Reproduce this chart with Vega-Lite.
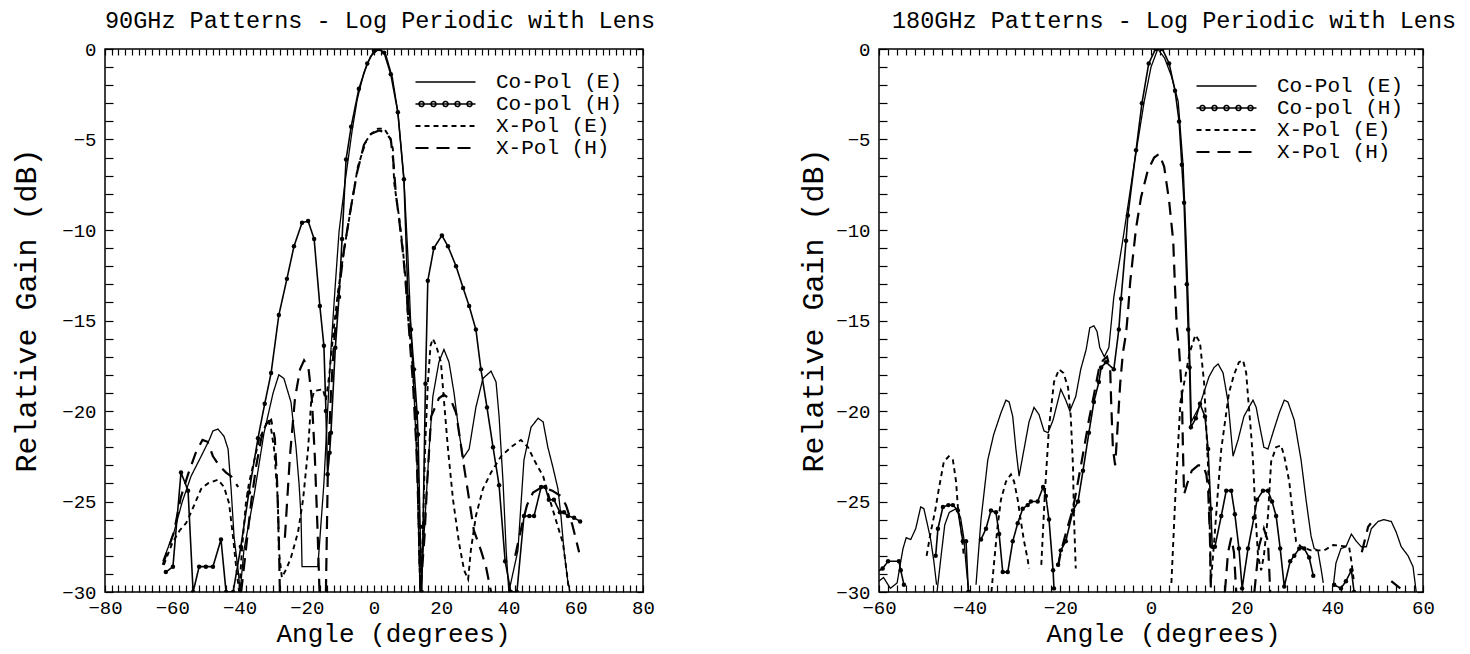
{
  "$schema": "https://vega.github.io/schema/vega-lite/v6.json",
  "autosize": {"type": "pad"},
  "padding": {"left": 10, "top": 7, "right": 5, "bottom": 3},
  "background": "white",
  "spacing": 236,
  "bounds": "flush",
  "config": {
    "font": "Liberation Mono",
    "view": {"stroke": "black", "strokeWidth": 1.5},
    "axis": {"labelFont": "Liberation Mono", "titleFont": "Liberation Mono", "labelColor": "black", "titleColor": "black", "tickColor": "black", "tickWidth": 1.2, "grid": false, "domain": false, "labelFontSize": 19, "titleFontSize": 26, "titleFontWeight": "normal", "labelOverlap": false, "labelFlush": false, "labelBound": false},
    "legend": {"labelFont": "Liberation Mono", "labelFontSize": 21, "labelColor": "black", "padding": 0, "symbolType": "M-6,0H6", "symbolSize": 100, "symbolStrokeColor": "black", "symbolOpacity": 1, "labelOffset": 40, "rowPadding": 0, "title": null},
    "title": {"font": "Liberation Mono", "fontSize": 23.5, "fontWeight": "normal", "anchor": "start", "color": "black", "frame": "group", "baseline": "alphabetic", "offset": 8}
  },
  "datasets": {
    "left": [
      {"s":"Co-Pol (E)","k":1,"a":-62.8,"g":-28.3},{"s":"Co-Pol (E)","k":1,"a":-59.5,"g":-26.7},{"s":"Co-Pol (E)","k":1,"a":-57,"g":-25},{"s":"Co-Pol (E)","k":1,"a":-54.4,"g":-23.6},{"s":"Co-Pol (E)","k":1,"a":-51.4,"g":-22.5},{"s":"Co-Pol (E)","k":1,"a":-49,"g":-21.6},{"s":"Co-Pol (E)","k":1,"a":-47.9,"g":-21.1},{"s":"Co-Pol (E)","k":1,"a":-46.4,"g":-21},{"s":"Co-Pol (E)","k":1,"a":-44.6,"g":-21.4},{"s":"Co-Pol (E)","k":1,"a":-43.4,"g":-22.1},{"s":"Co-Pol (E)","k":1,"a":-42.5,"g":-24.3},{"s":"Co-Pol (E)","k":1,"a":-41.6,"g":-27},{"s":"Co-Pol (E)","k":1,"a":-40.4,"g":-28.8},{"s":"Co-Pol (E)","k":1,"a":-39.8,"g":-30},{"s":"Co-Pol (E)","k":1,"a":-38.7,"g":-27.7},{"s":"Co-Pol (E)","k":1,"a":-35.7,"g":-24.7},{"s":"Co-Pol (E)","k":1,"a":-32.7,"g":-21.2},{"s":"Co-Pol (E)","k":1,"a":-30,"g":-19},{"s":"Co-Pol (E)","k":1,"a":-28.3,"g":-18},{"s":"Co-Pol (E)","k":1,"a":-26.8,"g":-18.2},{"s":"Co-Pol (E)","k":1,"a":-24.7,"g":-19.5},{"s":"Co-Pol (E)","k":1,"a":-23.2,"g":-22},{"s":"Co-Pol (E)","k":1,"a":-22.3,"g":-24},{"s":"Co-Pol (E)","k":1,"a":-21.7,"g":-25.8},{"s":"Co-Pol (E)","k":1,"a":-21.4,"g":-28.6},{"s":"Co-Pol (E)","k":1,"a":-16.7,"g":-28.6},{"s":"Co-Pol (E)","k":1,"a":-14.9,"g":-24},{"s":"Co-Pol (E)","k":1,"a":-13.8,"g":-20},{"s":"Co-Pol (E)","k":1,"a":-12.8,"g":-16.6},{"s":"Co-Pol (E)","k":1,"a":-11.5,"g":-13},{"s":"Co-Pol (E)","k":1,"a":-10.4,"g":-10.1},{"s":"Co-Pol (E)","k":1,"a":-8.5,"g":-7.2},{"s":"Co-Pol (E)","k":1,"a":-6.5,"g":-4.5},{"s":"Co-Pol (E)","k":1,"a":-5,"g":-2.8},{"s":"Co-Pol (E)","k":1,"a":-3,"g":-1.3},{"s":"Co-Pol (E)","k":1,"a":-1,"g":-0.4},{"s":"Co-Pol (E)","k":1,"a":1.5,"g":0},{"s":"Co-Pol (E)","k":1,"a":3.5,"g":-0.3},{"s":"Co-Pol (E)","k":1,"a":5.5,"g":-1.6},{"s":"Co-Pol (E)","k":1,"a":7.1,"g":-3.5},{"s":"Co-Pol (E)","k":1,"a":8.9,"g":-7.2},{"s":"Co-Pol (E)","k":1,"a":10.1,"g":-11.5},{"s":"Co-Pol (E)","k":1,"a":11,"g":-15.5},{"s":"Co-Pol (E)","k":1,"a":11.9,"g":-19},{"s":"Co-Pol (E)","k":1,"a":12.8,"g":-23},{"s":"Co-Pol (E)","k":1,"a":13.3,"g":-27},{"s":"Co-Pol (E)","k":1,"a":13.7,"g":-30},{"s":"Co-Pol (E)","k":1,"a":14.6,"g":-27.7},{"s":"Co-Pol (E)","k":1,"a":16.4,"g":-22.1},{"s":"Co-Pol (E)","k":1,"a":17.5,"g":-19.2},{"s":"Co-Pol (E)","k":1,"a":19.3,"g":-17.3},{"s":"Co-Pol (E)","k":1,"a":20.8,"g":-16.6},{"s":"Co-Pol (E)","k":1,"a":22.3,"g":-17.3},{"s":"Co-Pol (E)","k":1,"a":23.8,"g":-19},{"s":"Co-Pol (E)","k":1,"a":25.3,"g":-21.2},{"s":"Co-Pol (E)","k":1,"a":26.5,"g":-22.6},{"s":"Co-Pol (E)","k":1,"a":28.3,"g":-22.1},{"s":"Co-Pol (E)","k":1,"a":30.3,"g":-19.8},{"s":"Co-Pol (E)","k":1,"a":32.4,"g":-18.2},{"s":"Co-Pol (E)","k":1,"a":34.8,"g":-17.8},{"s":"Co-Pol (E)","k":1,"a":36.3,"g":-18.4},{"s":"Co-Pol (E)","k":1,"a":37.2,"g":-20.3},{"s":"Co-Pol (E)","k":1,"a":38.4,"g":-24},{"s":"Co-Pol (E)","k":1,"a":39.3,"g":-27.7},{"s":"Co-Pol (E)","k":1,"a":40.1,"g":-30},{"s":"Co-Pol (E)","k":1,"a":42.8,"g":-27.7},{"s":"Co-Pol (E)","k":1,"a":44.6,"g":-22.7},{"s":"Co-Pol (E)","k":1,"a":46.7,"g":-20.9},{"s":"Co-Pol (E)","k":1,"a":48.8,"g":-20.4},{"s":"Co-Pol (E)","k":1,"a":50.3,"g":-20.6},{"s":"Co-Pol (E)","k":1,"a":51.7,"g":-22},{"s":"Co-Pol (E)","k":1,"a":53.2,"g":-23.1},{"s":"Co-Pol (E)","k":1,"a":54.7,"g":-24.3},{"s":"Co-Pol (E)","k":1,"a":55.6,"g":-25.8},{"s":"Co-Pol (E)","k":1,"a":56.5,"g":-27.7},{"s":"Co-Pol (E)","k":1,"a":57.7,"g":-29.5},{"s":"Co-Pol (E)","k":1,"a":58.3,"g":-30},
      {"s":"Co-pol (H)","k":1,"a":-61.9,"g":-28.9},{"s":"Co-pol (H)","k":1,"a":-59.8,"g":-28.6},{"s":"Co-pol (H)","k":1,"a":-57.4,"g":-23.4},{"s":"Co-pol (H)","k":1,"a":-55.3,"g":-24.4},{"s":"Co-pol (H)","k":1,"a":-53.8,"g":-30},{"s":"Co-pol (H)","k":1,"a":-52,"g":-28.6},{"s":"Co-pol (H)","k":1,"a":-50,"g":-28.6},{"s":"Co-pol (H)","k":1,"a":-47.9,"g":-28.6},{"s":"Co-pol (H)","k":1,"a":-45.5,"g":-27.1},{"s":"Co-pol (H)","k":1,"a":-44,"g":-30},{"s":"Co-pol (H)","k":1,"a":-41.9,"g":-30},{"s":"Co-pol (H)","k":1,"a":-39.6,"g":-27.5},{"s":"Co-pol (H)","k":1,"a":-37.2,"g":-24.5},{"s":"Co-pol (H)","k":1,"a":-34.5,"g":-21.5},{"s":"Co-pol (H)","k":1,"a":-32.5,"g":-19.6},{"s":"Co-pol (H)","k":1,"a":-30.6,"g":-17.9},{"s":"Co-pol (H)","k":1,"a":-28.3,"g":-14.7},{"s":"Co-pol (H)","k":1,"a":-25.9,"g":-12.7},{"s":"Co-pol (H)","k":1,"a":-23.8,"g":-10.9},{"s":"Co-pol (H)","k":1,"a":-21.4,"g":-9.6},{"s":"Co-pol (H)","k":1,"a":-19.6,"g":-9.5},{"s":"Co-pol (H)","k":1,"a":-17.8,"g":-10.5},{"s":"Co-pol (H)","k":1,"a":-16.1,"g":-14.2},{"s":"Co-pol (H)","k":1,"a":-14.9,"g":-16.4},{"s":"Co-pol (H)","k":1,"a":-14.3,"g":-20},{"s":"Co-pol (H)","k":1,"a":-13.8,"g":-23.5},{"s":"Co-pol (H)","k":1,"a":-13.2,"g":-22.3},{"s":"Co-pol (H)","k":1,"a":-12.8,"g":-21.2},{"s":"Co-pol (H)","k":1,"a":-11.5,"g":-16.5},{"s":"Co-pol (H)","k":1,"a":-10.4,"g":-13.7},{"s":"Co-pol (H)","k":1,"a":-9.5,"g":-10.5},{"s":"Co-pol (H)","k":1,"a":-8.3,"g":-6.1},{"s":"Co-pol (H)","k":1,"a":-6.8,"g":-4.3},{"s":"Co-pol (H)","k":1,"a":-4.5,"g":-2.2},{"s":"Co-pol (H)","k":1,"a":-2,"g":-0.8},{"s":"Co-pol (H)","k":1,"a":0,"g":-0.1},{"s":"Co-pol (H)","k":1,"a":1.5,"g":0},{"s":"Co-pol (H)","k":1,"a":3,"g":-0.2},{"s":"Co-pol (H)","k":1,"a":5,"g":-1.4},{"s":"Co-pol (H)","k":1,"a":7.1,"g":-3.5},{"s":"Co-pol (H)","k":1,"a":8.9,"g":-7.2},{"s":"Co-pol (H)","k":1,"a":10.1,"g":-13.7},{"s":"Co-pol (H)","k":1,"a":11,"g":-15.5},{"s":"Co-pol (H)","k":1,"a":11.9,"g":-17.7},{"s":"Co-pol (H)","k":1,"a":12.8,"g":-20.1},{"s":"Co-pol (H)","k":1,"a":13.1,"g":-21.3},{"s":"Co-pol (H)","k":1,"a":13.7,"g":-26.4},{"s":"Co-pol (H)","k":1,"a":14.2,"g":-30},{"s":"Co-pol (H)","k":1,"a":14.6,"g":-26.4},{"s":"Co-pol (H)","k":1,"a":15.3,"g":-18.5},{"s":"Co-pol (H)","k":1,"a":16,"g":-12.8},{"s":"Co-pol (H)","k":1,"a":17.8,"g":-11},{"s":"Co-pol (H)","k":1,"a":20.2,"g":-10.3},{"s":"Co-pol (H)","k":1,"a":22,"g":-10.9},{"s":"Co-pol (H)","k":1,"a":24.4,"g":-12},{"s":"Co-pol (H)","k":1,"a":26.5,"g":-13.2},{"s":"Co-pol (H)","k":1,"a":28.3,"g":-14.2},{"s":"Co-pol (H)","k":1,"a":30.3,"g":-15.5},{"s":"Co-pol (H)","k":1,"a":31.8,"g":-17.7},{"s":"Co-pol (H)","k":1,"a":33.6,"g":-19.8},{"s":"Co-pol (H)","k":1,"a":35.4,"g":-22},{"s":"Co-pol (H)","k":1,"a":37.2,"g":-24.1},{"s":"Co-pol (H)","k":1,"a":39,"g":-28.3},{"s":"Co-pol (H)","k":1,"a":40.7,"g":-30},{"s":"Co-pol (H)","k":1,"a":42.5,"g":-30},{"s":"Co-pol (H)","k":1,"a":44.6,"g":-25.8},{"s":"Co-pol (H)","k":1,"a":46.2,"g":-25.8},{"s":"Co-pol (H)","k":1,"a":47.6,"g":-25.8},{"s":"Co-pol (H)","k":1,"a":49.7,"g":-24.2},{"s":"Co-pol (H)","k":1,"a":50.9,"g":-24.2},{"s":"Co-pol (H)","k":1,"a":52,"g":-24.9},{"s":"Co-pol (H)","k":1,"a":53.5,"g":-24.9},{"s":"Co-pol (H)","k":1,"a":55.3,"g":-25.6},{"s":"Co-pol (H)","k":1,"a":56.5,"g":-25.6},{"s":"Co-pol (H)","k":1,"a":57.7,"g":-25.8},{"s":"Co-pol (H)","k":1,"a":59.5,"g":-25.9},{"s":"Co-pol (H)","k":1,"a":61.3,"g":-26.1},
      {"s":"X-Pol (E)","k":1,"a":-62.5,"g":-28.5},{"s":"X-Pol (E)","k":1,"a":-60,"g":-27.3},{"s":"X-Pol (E)","k":1,"a":-57.8,"g":-26.6},{"s":"X-Pol (E)","k":1,"a":-55.9,"g":-26.2},{"s":"X-Pol (E)","k":1,"a":-54.4,"g":-25.6},{"s":"X-Pol (E)","k":1,"a":-51.4,"g":-24.3},{"s":"X-Pol (E)","k":1,"a":-49.4,"g":-24},{"s":"X-Pol (E)","k":1,"a":-46.4,"g":-23.8},{"s":"X-Pol (E)","k":1,"a":-44.6,"g":-24.2},{"s":"X-Pol (E)","k":1,"a":-43.1,"g":-25.1},{"s":"X-Pol (E)","k":1,"a":-41.9,"g":-27},{"s":"X-Pol (E)","k":1,"a":-41,"g":-28.6},{"s":"X-Pol (E)","k":1,"a":-40.1,"g":-30},{"s":"X-Pol (E)","k":1,"a":-39.2,"g":-27.5},{"s":"X-Pol (E)","k":1,"a":-38.1,"g":-25.1},{"s":"X-Pol (E)","k":1,"a":-37.2,"g":-24},{"s":"X-Pol (E)","k":1,"a":-34.2,"g":-21.6},{"s":"X-Pol (E)","k":1,"a":-31.5,"g":-20.5},{"s":"X-Pol (E)","k":1,"a":-30.6,"g":-21},{"s":"X-Pol (E)","k":1,"a":-29.7,"g":-22.1},{"s":"X-Pol (E)","k":1,"a":-28.6,"g":-24.9},{"s":"X-Pol (E)","k":1,"a":-28.3,"g":-27.7},{"s":"X-Pol (E)","k":1,"a":-27.4,"g":-29.2},{"s":"X-Pol (E)","k":1,"a":-26,"g":-28.7},{"s":"X-Pol (E)","k":1,"a":-24.7,"g":-28.1},{"s":"X-Pol (E)","k":1,"a":-22.6,"g":-26.7},{"s":"X-Pol (E)","k":1,"a":-21.1,"g":-24.9},{"s":"X-Pol (E)","k":1,"a":-19.6,"g":-22.1},{"s":"X-Pol (E)","k":1,"a":-18.7,"g":-19.5},{"s":"X-Pol (E)","k":1,"a":-17.8,"g":-18.9},{"s":"X-Pol (E)","k":1,"a":-15.2,"g":-18.8},{"s":"X-Pol (E)","k":1,"a":-14.3,"g":-19.4},{"s":"X-Pol (E)","k":1,"a":-13.3,"g":-18},{"s":"X-Pol (E)","k":1,"a":-12,"g":-15.5},{"s":"X-Pol (E)","k":1,"a":-10.7,"g":-13.4},{"s":"X-Pol (E)","k":1,"a":-8.9,"g":-11.1},{"s":"X-Pol (E)","k":1,"a":-6.8,"g":-8.7},{"s":"X-Pol (E)","k":1,"a":-4.8,"g":-6.5},{"s":"X-Pol (E)","k":1,"a":-2.4,"g":-5.1},{"s":"X-Pol (E)","k":1,"a":-0.9,"g":-4.7},{"s":"X-Pol (E)","k":1,"a":1.2,"g":-4.4},{"s":"X-Pol (E)","k":1,"a":3,"g":-4.4},{"s":"X-Pol (E)","k":1,"a":4.8,"g":-4.9},{"s":"X-Pol (E)","k":1,"a":5.6,"g":-5.5},{"s":"X-Pol (E)","k":1,"a":6,"g":-7.4},{"s":"X-Pol (E)","k":1,"a":7.4,"g":-9.2},{"s":"X-Pol (E)","k":1,"a":8.6,"g":-11.1},{"s":"X-Pol (E)","k":1,"a":9.5,"g":-12.9},{"s":"X-Pol (E)","k":1,"a":10.1,"g":-14.8},{"s":"X-Pol (E)","k":1,"a":11,"g":-16.4},{"s":"X-Pol (E)","k":1,"a":12.5,"g":-20.3},{"s":"X-Pol (E)","k":1,"a":13.1,"g":-24},{"s":"X-Pol (E)","k":1,"a":13.4,"g":-27.7},{"s":"X-Pol (E)","k":1,"a":13.8,"g":-30},{"s":"X-Pol (E)","k":1,"a":14.5,"g":-27},{"s":"X-Pol (E)","k":1,"a":15.2,"g":-22},{"s":"X-Pol (E)","k":1,"a":16,"g":-18.5},{"s":"X-Pol (E)","k":1,"a":16.8,"g":-16.4},{"s":"X-Pol (E)","k":1,"a":17.5,"g":-16},{"s":"X-Pol (E)","k":1,"a":18.5,"g":-16.4},{"s":"X-Pol (E)","k":1,"a":19.9,"g":-17.3},{"s":"X-Pol (E)","k":1,"a":20.8,"g":-19.4},{"s":"X-Pol (E)","k":1,"a":22,"g":-22.1},{"s":"X-Pol (E)","k":1,"a":23.5,"g":-24.9},{"s":"X-Pol (E)","k":1,"a":25.3,"g":-27.3},{"s":"X-Pol (E)","k":1,"a":26.8,"g":-28.8},{"s":"X-Pol (E)","k":1,"a":28,"g":-29.3},{"s":"X-Pol (E)","k":1,"a":28.8,"g":-27.7},{"s":"X-Pol (E)","k":1,"a":30.3,"g":-25.8},{"s":"X-Pol (E)","k":1,"a":32.4,"g":-24.3},{"s":"X-Pol (E)","k":1,"a":34.8,"g":-23.4},{"s":"X-Pol (E)","k":1,"a":37.8,"g":-22.5},{"s":"X-Pol (E)","k":1,"a":40.7,"g":-22},{"s":"X-Pol (E)","k":1,"a":43.7,"g":-21.6},{"s":"X-Pol (E)","k":1,"a":45.8,"g":-22},{"s":"X-Pol (E)","k":1,"a":47.6,"g":-22.7},{"s":"X-Pol (E)","k":1,"a":50.3,"g":-23.6},{"s":"X-Pol (E)","k":1,"a":52.6,"g":-25.1},{"s":"X-Pol (E)","k":1,"a":54.7,"g":-26.4},{"s":"X-Pol (E)","k":1,"a":56.2,"g":-27.3},{"s":"X-Pol (E)","k":1,"a":57.1,"g":-28.6},{"s":"X-Pol (E)","k":1,"a":58,"g":-29.9},
      {"s":"X-Pol (H)","k":1,"a":-62.8,"g":-28.5},{"s":"X-Pol (H)","k":1,"a":-61,"g":-27.5},{"s":"X-Pol (H)","k":1,"a":-59.5,"g":-26.7},{"s":"X-Pol (H)","k":1,"a":-57.5,"g":-24.8},{"s":"X-Pol (H)","k":1,"a":-55.3,"g":-23.5},{"s":"X-Pol (H)","k":1,"a":-53,"g":-22.3},{"s":"X-Pol (H)","k":1,"a":-51,"g":-21.6},{"s":"X-Pol (H)","k":1,"a":-49.5,"g":-21.7},{"s":"X-Pol (H)","k":1,"a":-47.9,"g":-22.5},{"s":"X-Pol (H)","k":1,"a":-46.1,"g":-23},{"s":"X-Pol (H)","k":1,"a":-44,"g":-23.4},{"s":"X-Pol (H)","k":1,"a":-42.5,"g":-23.6},{"s":"X-Pol (H)","k":1,"a":-40.4,"g":-24.2},
      {"s":"X-Pol (H)","k":2,"a":-39.5,"g":-30},{"s":"X-Pol (H)","k":2,"a":-38,"g":-27.5},{"s":"X-Pol (H)","k":2,"a":-36.5,"g":-25},{"s":"X-Pol (H)","k":2,"a":-35,"g":-23},{"s":"X-Pol (H)","k":2,"a":-33.5,"g":-21.5},{"s":"X-Pol (H)","k":2,"a":-32,"g":-20.7},{"s":"X-Pol (H)","k":2,"a":-30.6,"g":-20.5},{"s":"X-Pol (H)","k":2,"a":-29.5,"g":-21.5},{"s":"X-Pol (H)","k":2,"a":-28.8,"g":-24},{"s":"X-Pol (H)","k":2,"a":-28.3,"g":-27},{"s":"X-Pol (H)","k":2,"a":-28,"g":-30},
      {"s":"X-Pol (H)","k":3,"a":-26.5,"g":-27},{"s":"X-Pol (H)","k":3,"a":-25,"g":-22.5},{"s":"X-Pol (H)","k":3,"a":-23.5,"g":-19.3},{"s":"X-Pol (H)","k":3,"a":-22,"g":-17.7},{"s":"X-Pol (H)","k":3,"a":-20.8,"g":-17.2},{"s":"X-Pol (H)","k":3,"a":-19.5,"g":-17.6},{"s":"X-Pol (H)","k":3,"a":-18.5,"g":-19.3},{"s":"X-Pol (H)","k":3,"a":-17.6,"g":-22.5},{"s":"X-Pol (H)","k":3,"a":-16.8,"g":-26.5},{"s":"X-Pol (H)","k":3,"a":-16.2,"g":-30},
      {"s":"X-Pol (H)","k":4,"a":-14.3,"g":-30},{"s":"X-Pol (H)","k":4,"a":-13.7,"g":-23},{"s":"X-Pol (H)","k":4,"a":-12.8,"g":-19},{"s":"X-Pol (H)","k":4,"a":-11.9,"g":-16.3},{"s":"X-Pol (H)","k":4,"a":-10.7,"g":-13.8},{"s":"X-Pol (H)","k":4,"a":-9,"g":-11.2},{"s":"X-Pol (H)","k":4,"a":-7,"g":-8.9},{"s":"X-Pol (H)","k":4,"a":-5,"g":-6.8},{"s":"X-Pol (H)","k":4,"a":-3,"g":-5.3},{"s":"X-Pol (H)","k":4,"a":-1,"g":-4.7},{"s":"X-Pol (H)","k":4,"a":1.5,"g":-4.5},{"s":"X-Pol (H)","k":4,"a":3.5,"g":-4.6},{"s":"X-Pol (H)","k":4,"a":5,"g":-5},{"s":"X-Pol (H)","k":4,"a":5.8,"g":-6.3},{"s":"X-Pol (H)","k":4,"a":6.5,"g":-8},{"s":"X-Pol (H)","k":4,"a":7.6,"g":-9.6},{"s":"X-Pol (H)","k":4,"a":8.8,"g":-11.6},{"s":"X-Pol (H)","k":4,"a":9.8,"g":-13.8},{"s":"X-Pol (H)","k":4,"a":10.6,"g":-16},{"s":"X-Pol (H)","k":4,"a":11.6,"g":-18.5},{"s":"X-Pol (H)","k":4,"a":12.6,"g":-22},{"s":"X-Pol (H)","k":4,"a":13.3,"g":-26},{"s":"X-Pol (H)","k":4,"a":13.8,"g":-30},{"s":"X-Pol (H)","k":4,"a":15,"g":-27},{"s":"X-Pol (H)","k":4,"a":15.8,"g":-24},{"s":"X-Pol (H)","k":4,"a":17,"g":-20.3},{"s":"X-Pol (H)","k":4,"a":19.3,"g":-19.3},{"s":"X-Pol (H)","k":4,"a":20.8,"g":-19.1},{"s":"X-Pol (H)","k":4,"a":22.9,"g":-19.4},{"s":"X-Pol (H)","k":4,"a":24.4,"g":-20.1},{"s":"X-Pol (H)","k":4,"a":25.3,"g":-21.2},{"s":"X-Pol (H)","k":4,"a":26.8,"g":-23.1},{"s":"X-Pol (H)","k":4,"a":28.3,"g":-24.9},{"s":"X-Pol (H)","k":4,"a":29.7,"g":-26.6},{"s":"X-Pol (H)","k":4,"a":31.8,"g":-27.7},{"s":"X-Pol (H)","k":4,"a":33.3,"g":-28.6},{"s":"X-Pol (H)","k":4,"a":34.8,"g":-30},
      {"s":"X-Pol (H)","k":6,"a":42,"g":-28},{"s":"X-Pol (H)","k":6,"a":44,"g":-26.3},{"s":"X-Pol (H)","k":6,"a":45.5,"g":-25.2},{"s":"X-Pol (H)","k":6,"a":47.3,"g":-24.5},{"s":"X-Pol (H)","k":6,"a":50,"g":-24.2},{"s":"X-Pol (H)","k":6,"a":53,"g":-24.4},{"s":"X-Pol (H)","k":6,"a":55.6,"g":-24.7},{"s":"X-Pol (H)","k":6,"a":57.1,"g":-25.2},{"s":"X-Pol (H)","k":6,"a":59,"g":-26.3},{"s":"X-Pol (H)","k":6,"a":61,"g":-27.8}
    ],
    "right": [
      {"s":"Co-Pol (E)","k":1,"a":-60.5,"g":-29.5},{"s":"Co-Pol (E)","k":1,"a":-59,"g":-29.2},{"s":"Co-Pol (E)","k":1,"a":-57.5,"g":-29.8},{"s":"Co-Pol (E)","k":1,"a":-56,"g":-29.5},{"s":"Co-Pol (E)","k":1,"a":-55.2,"g":-28.3},{"s":"Co-Pol (E)","k":1,"a":-54.7,"g":-27.6},{"s":"Co-Pol (E)","k":1,"a":-54,"g":-27},{"s":"Co-Pol (E)","k":1,"a":-53,"g":-27.1},{"s":"Co-Pol (E)","k":1,"a":-51.9,"g":-26.5},{"s":"Co-Pol (E)","k":1,"a":-50.8,"g":-25.3},{"s":"Co-Pol (E)","k":1,"a":-50.1,"g":-25.4},{"s":"Co-Pol (E)","k":1,"a":-49.2,"g":-26.4},{"s":"Co-Pol (E)","k":1,"a":-48.6,"g":-27.1},{"s":"Co-Pol (E)","k":1,"a":-47.9,"g":-28.3},{"s":"Co-Pol (E)","k":1,"a":-47.3,"g":-29.6},
      {"s":"Co-Pol (E)","k":2,"a":-47.2,"g":-30},{"s":"Co-Pol (E)","k":2,"a":-46.3,"g":-28},{"s":"Co-Pol (E)","k":2,"a":-45.5,"g":-26.3},{"s":"Co-Pol (E)","k":2,"a":-44.5,"g":-25.6},{"s":"Co-Pol (E)","k":2,"a":-43,"g":-25.4},{"s":"Co-Pol (E)","k":2,"a":-42,"g":-25.9},{"s":"Co-Pol (E)","k":2,"a":-41.3,"g":-27},{"s":"Co-Pol (E)","k":2,"a":-40.8,"g":-28.5},{"s":"Co-Pol (E)","k":2,"a":-40.2,"g":-30},
      {"s":"Co-Pol (E)","k":3,"a":-38.6,"g":-29.6},{"s":"Co-Pol (E)","k":3,"a":-37.5,"g":-26},{"s":"Co-Pol (E)","k":3,"a":-36,"g":-22.7},{"s":"Co-Pol (E)","k":3,"a":-34.7,"g":-21.3},{"s":"Co-Pol (E)","k":3,"a":-33.1,"g":-20.1},{"s":"Co-Pol (E)","k":3,"a":-32,"g":-19.4},{"s":"Co-Pol (E)","k":3,"a":-31.3,"g":-19.5},{"s":"Co-Pol (E)","k":3,"a":-30.5,"g":-20.3},{"s":"Co-Pol (E)","k":3,"a":-29.8,"g":-22.1},{"s":"Co-Pol (E)","k":3,"a":-29.1,"g":-23.6},{"s":"Co-Pol (E)","k":3,"a":-28,"g":-22.1},{"s":"Co-Pol (E)","k":3,"a":-26.9,"g":-20.6},{"s":"Co-Pol (E)","k":3,"a":-25.8,"g":-19.8},{"s":"Co-Pol (E)","k":3,"a":-24.7,"g":-20.2},{"s":"Co-Pol (E)","k":3,"a":-23.6,"g":-21.1},{"s":"Co-Pol (E)","k":3,"a":-22.7,"g":-21.2},{"s":"Co-Pol (E)","k":3,"a":-21.6,"g":-20.5},{"s":"Co-Pol (E)","k":3,"a":-20.5,"g":-19.4},{"s":"Co-Pol (E)","k":3,"a":-19.9,"g":-18.8},{"s":"Co-Pol (E)","k":3,"a":-18.8,"g":-19.4},{"s":"Co-Pol (E)","k":3,"a":-17.9,"g":-20},{"s":"Co-Pol (E)","k":3,"a":-16.6,"g":-19.2},{"s":"Co-Pol (E)","k":3,"a":-15.5,"g":-17.7},{"s":"Co-Pol (E)","k":3,"a":-14.3,"g":-16.6},{"s":"Co-Pol (E)","k":3,"a":-13.5,"g":-15.4},{"s":"Co-Pol (E)","k":3,"a":-12.6,"g":-15.3},{"s":"Co-Pol (E)","k":3,"a":-11.9,"g":-15.6},{"s":"Co-Pol (E)","k":3,"a":-11.3,"g":-16.5},{"s":"Co-Pol (E)","k":3,"a":-10.3,"g":-17},{"s":"Co-Pol (E)","k":3,"a":-9.3,"g":-16.5},{"s":"Co-Pol (E)","k":3,"a":-8.2,"g":-13.7},{"s":"Co-Pol (E)","k":3,"a":-6,"g":-10.2},{"s":"Co-Pol (E)","k":3,"a":-3.8,"g":-6.5},{"s":"Co-Pol (E)","k":3,"a":-1.5,"g":-2.9},{"s":"Co-Pol (E)","k":3,"a":0,"g":-1},{"s":"Co-Pol (E)","k":3,"a":1.5,"g":0},{"s":"Co-Pol (E)","k":3,"a":3,"g":-0.5},{"s":"Co-Pol (E)","k":3,"a":4.5,"g":-1.5},{"s":"Co-Pol (E)","k":3,"a":6,"g":-2.9},{"s":"Co-Pol (E)","k":3,"a":7.1,"g":-6.5},{"s":"Co-Pol (E)","k":3,"a":7.7,"g":-10.2},{"s":"Co-Pol (E)","k":3,"a":8.2,"g":-13.9},{"s":"Co-Pol (E)","k":3,"a":8.5,"g":-16.6},{"s":"Co-Pol (E)","k":3,"a":8.7,"g":-18.4},{"s":"Co-Pol (E)","k":3,"a":8.9,"g":-20.6},{"s":"Co-Pol (E)","k":3,"a":9.5,"g":-20.3},{"s":"Co-Pol (E)","k":3,"a":10.6,"g":-19.8},{"s":"Co-Pol (E)","k":3,"a":12.8,"g":-18.1},{"s":"Co-Pol (E)","k":3,"a":13.9,"g":-17.6},{"s":"Co-Pol (E)","k":3,"a":14.8,"g":-17.4},{"s":"Co-Pol (E)","k":3,"a":15.9,"g":-17.9},{"s":"Co-Pol (E)","k":3,"a":17,"g":-19.5},{"s":"Co-Pol (E)","k":3,"a":18.1,"g":-22.5},{"s":"Co-Pol (E)","k":3,"a":19.2,"g":-21.6},{"s":"Co-Pol (E)","k":3,"a":20.5,"g":-20.3},{"s":"Co-Pol (E)","k":3,"a":21.6,"g":-19.8},{"s":"Co-Pol (E)","k":3,"a":22.5,"g":-19.4},{"s":"Co-Pol (E)","k":3,"a":23.2,"g":-19.8},{"s":"Co-Pol (E)","k":3,"a":23.8,"g":-20.6},{"s":"Co-Pol (E)","k":3,"a":24.9,"g":-22},{"s":"Co-Pol (E)","k":3,"a":25.8,"g":-22.1},{"s":"Co-Pol (E)","k":3,"a":26.9,"g":-21.2},{"s":"Co-Pol (E)","k":3,"a":28.3,"g":-20.1},{"s":"Co-Pol (E)","k":3,"a":29.4,"g":-19.4},{"s":"Co-Pol (E)","k":3,"a":30.2,"g":-19.5},{"s":"Co-Pol (E)","k":3,"a":31.6,"g":-20.5},{"s":"Co-Pol (E)","k":3,"a":33.1,"g":-22.7},{"s":"Co-Pol (E)","k":3,"a":34.2,"g":-24.9},{"s":"Co-Pol (E)","k":3,"a":35.3,"g":-26.9},{"s":"Co-Pol (E)","k":3,"a":36,"g":-27.6},{"s":"Co-Pol (E)","k":3,"a":36.8,"g":-27.7},{"s":"Co-Pol (E)","k":3,"a":37.5,"g":-28.7},{"s":"Co-Pol (E)","k":3,"a":38,"g":-29.5},
      {"s":"Co-Pol (E)","k":4,"a":40.2,"g":-29.7},{"s":"Co-Pol (E)","k":4,"a":40.8,"g":-28.4},{"s":"Co-Pol (E)","k":4,"a":41.9,"g":-27.6},{"s":"Co-Pol (E)","k":4,"a":43,"g":-27.5},{"s":"Co-Pol (E)","k":4,"a":44.2,"g":-26.8},{"s":"Co-Pol (E)","k":4,"a":45.3,"g":-27.2},{"s":"Co-Pol (E)","k":4,"a":46.4,"g":-27.5},{"s":"Co-Pol (E)","k":4,"a":47.5,"g":-27.5},{"s":"Co-Pol (E)","k":4,"a":48.6,"g":-26.5},{"s":"Co-Pol (E)","k":4,"a":50.1,"g":-26.1},{"s":"Co-Pol (E)","k":4,"a":51.4,"g":-26},{"s":"Co-Pol (E)","k":4,"a":53,"g":-26.1},{"s":"Co-Pol (E)","k":4,"a":54.1,"g":-26.7},{"s":"Co-Pol (E)","k":4,"a":55.2,"g":-27.5},{"s":"Co-Pol (E)","k":4,"a":56.7,"g":-28},{"s":"Co-Pol (E)","k":4,"a":57.8,"g":-28.6},{"s":"Co-Pol (E)","k":4,"a":58.5,"g":-30},
      {"s":"Co-pol (H)","k":1,"a":-60.5,"g":-28.9},{"s":"Co-pol (H)","k":1,"a":-59.2,"g":-28.7},{"s":"Co-pol (H)","k":1,"a":-58,"g":-28.3},{"s":"Co-pol (H)","k":1,"a":-55.6,"g":-28.3},{"s":"Co-pol (H)","k":1,"a":-55.2,"g":-28.8},{"s":"Co-pol (H)","k":1,"a":-54.5,"g":-29.6},
      {"s":"Co-pol (H)","k":2,"a":-47.5,"g":-28},{"s":"Co-pol (H)","k":2,"a":-47,"g":-26.5},{"s":"Co-pol (H)","k":2,"a":-45.9,"g":-25.3},{"s":"Co-pol (H)","k":2,"a":-44.7,"g":-25.2},{"s":"Co-pol (H)","k":2,"a":-43.7,"g":-25.2},{"s":"Co-pol (H)","k":2,"a":-42.6,"g":-25.5},{"s":"Co-pol (H)","k":2,"a":-41.5,"g":-27.2},{"s":"Co-pol (H)","k":2,"a":-40.8,"g":-27.2},{"s":"Co-pol (H)","k":2,"a":-40.3,"g":-30},
      {"s":"Co-pol (H)","k":3,"a":-37.5,"g":-27.1},{"s":"Co-pol (H)","k":3,"a":-36.4,"g":-26.5},{"s":"Co-pol (H)","k":3,"a":-35.3,"g":-25.5},{"s":"Co-pol (H)","k":3,"a":-34.2,"g":-25.6},{"s":"Co-pol (H)","k":3,"a":-33.5,"g":-26.8},{"s":"Co-pol (H)","k":3,"a":-32.7,"g":-28.9},{"s":"Co-pol (H)","k":3,"a":-31.6,"g":-28.9},{"s":"Co-pol (H)","k":3,"a":-30.5,"g":-27.2},{"s":"Co-pol (H)","k":3,"a":-29.4,"g":-26.2},{"s":"Co-pol (H)","k":3,"a":-28.3,"g":-25.4},{"s":"Co-pol (H)","k":3,"a":-27.2,"g":-25.2},{"s":"Co-pol (H)","k":3,"a":-26.5,"g":-25},{"s":"Co-pol (H)","k":3,"a":-25,"g":-25},{"s":"Co-pol (H)","k":3,"a":-23.8,"g":-24.2},{"s":"Co-pol (H)","k":3,"a":-23.2,"g":-24.7},{"s":"Co-pol (H)","k":3,"a":-22.5,"g":-26},{"s":"Co-pol (H)","k":3,"a":-21.6,"g":-28.8},{"s":"Co-pol (H)","k":3,"a":-21.4,"g":-29.8},
      {"s":"Co-pol (H)","k":4,"a":-20.5,"g":-28.5},{"s":"Co-pol (H)","k":4,"a":-19.9,"g":-27.7},{"s":"Co-pol (H)","k":4,"a":-18.8,"g":-27.2},{"s":"Co-pol (H)","k":4,"a":-17.2,"g":-25.5},{"s":"Co-pol (H)","k":4,"a":-16.1,"g":-25},{"s":"Co-pol (H)","k":4,"a":-15,"g":-23.3},{"s":"Co-pol (H)","k":4,"a":-13.7,"g":-21.2},{"s":"Co-pol (H)","k":4,"a":-12.6,"g":-19.5},{"s":"Co-pol (H)","k":4,"a":-11.5,"g":-18.4},{"s":"Co-pol (H)","k":4,"a":-11,"g":-17.6},{"s":"Co-pol (H)","k":4,"a":-9.9,"g":-17.3},{"s":"Co-pol (H)","k":4,"a":-8.2,"g":-17.7},{"s":"Co-pol (H)","k":4,"a":-7.1,"g":-15.5},{"s":"Co-pol (H)","k":4,"a":-6.6,"g":-13.8},{"s":"Co-pol (H)","k":4,"a":-5.5,"g":-10.6},{"s":"Co-pol (H)","k":4,"a":-5.1,"g":-9.2},{"s":"Co-pol (H)","k":4,"a":-3.3,"g":-5.6},{"s":"Co-pol (H)","k":4,"a":-2,"g":-3},{"s":"Co-pol (H)","k":4,"a":-0.5,"g":-0.8},{"s":"Co-pol (H)","k":4,"a":1,"g":0},{"s":"Co-pol (H)","k":4,"a":2.5,"g":0},{"s":"Co-pol (H)","k":4,"a":4,"g":-0.8},{"s":"Co-pol (H)","k":4,"a":5.3,"g":-2.3},{"s":"Co-pol (H)","k":4,"a":6.2,"g":-4},{"s":"Co-pol (H)","k":4,"a":6.8,"g":-6.4},{"s":"Co-pol (H)","k":4,"a":7.3,"g":-8.5},{"s":"Co-pol (H)","k":4,"a":7.9,"g":-13},{"s":"Co-pol (H)","k":4,"a":8.2,"g":-15.5},{"s":"Co-pol (H)","k":4,"a":8.5,"g":-17.6},{"s":"Co-pol (H)","k":4,"a":8.8,"g":-20.9},{"s":"Co-pol (H)","k":4,"a":9.9,"g":-20.4},{"s":"Co-pol (H)","k":4,"a":10.8,"g":-19.6},{"s":"Co-pol (H)","k":4,"a":11.9,"g":-20.3},{"s":"Co-pol (H)","k":4,"a":12.6,"g":-22.1},{"s":"Co-pol (H)","k":4,"a":13.2,"g":-25.4},{"s":"Co-pol (H)","k":4,"a":13.5,"g":-27.5},{"s":"Co-pol (H)","k":4,"a":14.1,"g":-27.5},{"s":"Co-pol (H)","k":4,"a":15.5,"g":-25.8},{"s":"Co-pol (H)","k":4,"a":16.6,"g":-24.4},{"s":"Co-pol (H)","k":4,"a":17.7,"g":-24.4},{"s":"Co-pol (H)","k":4,"a":18.5,"g":-25.7},{"s":"Co-pol (H)","k":4,"a":19.4,"g":-27.6},{"s":"Co-pol (H)","k":4,"a":20.1,"g":-29.8},{"s":"Co-pol (H)","k":4,"a":21.4,"g":-27.6},{"s":"Co-pol (H)","k":4,"a":22.7,"g":-25.9},{"s":"Co-pol (H)","k":4,"a":23.4,"g":-24.9},{"s":"Co-pol (H)","k":4,"a":24.7,"g":-24.4},{"s":"Co-pol (H)","k":4,"a":25.8,"g":-24.4},{"s":"Co-pol (H)","k":4,"a":26.7,"g":-25},{"s":"Co-pol (H)","k":4,"a":27.6,"g":-25.8},{"s":"Co-pol (H)","k":4,"a":28.5,"g":-27.6},{"s":"Co-pol (H)","k":4,"a":29.4,"g":-29.7},{"s":"Co-pol (H)","k":4,"a":30.7,"g":-28.3},{"s":"Co-pol (H)","k":4,"a":31.6,"g":-28},{"s":"Co-pol (H)","k":4,"a":32.7,"g":-27.6},{"s":"Co-pol (H)","k":4,"a":33.8,"g":-27.6},{"s":"Co-pol (H)","k":4,"a":34.9,"g":-28.1},{"s":"Co-pol (H)","k":4,"a":35.8,"g":-29.1},
      {"s":"Co-pol (H)","k":5,"a":40.4,"g":-29.6},{"s":"Co-pol (H)","k":5,"a":41.9,"g":-29.8},{"s":"Co-pol (H)","k":5,"a":43,"g":-29.4},{"s":"Co-pol (H)","k":5,"a":44.2,"g":-28.8},{"s":"Co-pol (H)","k":5,"a":44.8,"g":-30},
      {"s":"X-Pol (E)","k":1,"a":-49.5,"g":-28},{"s":"X-Pol (E)","k":1,"a":-48.6,"g":-26.7},{"s":"X-Pol (E)","k":1,"a":-47.6,"g":-25.5},{"s":"X-Pol (E)","k":1,"a":-46.8,"g":-24.3},{"s":"X-Pol (E)","k":1,"a":-45.7,"g":-22.8},{"s":"X-Pol (E)","k":1,"a":-44.6,"g":-22.5},{"s":"X-Pol (E)","k":1,"a":-43.7,"g":-22.7},{"s":"X-Pol (E)","k":1,"a":-43,"g":-23.9},{"s":"X-Pol (E)","k":1,"a":-42.6,"g":-25.3},{"s":"X-Pol (E)","k":1,"a":-41.9,"g":-26.4},{"s":"X-Pol (E)","k":1,"a":-41.3,"g":-28},
      {"s":"X-Pol (E)","k":2,"a":-35.2,"g":-30},{"s":"X-Pol (E)","k":2,"a":-34.7,"g":-28.6},{"s":"X-Pol (E)","k":2,"a":-33.9,"g":-26.5},{"s":"X-Pol (E)","k":2,"a":-33.1,"g":-24.9},{"s":"X-Pol (E)","k":2,"a":-32,"g":-23.9},{"s":"X-Pol (E)","k":2,"a":-30.9,"g":-23.5},{"s":"X-Pol (E)","k":2,"a":-30.2,"g":-23.9},{"s":"X-Pol (E)","k":2,"a":-29.4,"g":-24.9},{"s":"X-Pol (E)","k":2,"a":-28.7,"g":-26.1},{"s":"X-Pol (E)","k":2,"a":-28,"g":-27.2},{"s":"X-Pol (E)","k":2,"a":-27.2,"g":-28.2},{"s":"X-Pol (E)","k":2,"a":-26.9,"g":-28.7},
      {"s":"X-Pol (E)","k":3,"a":-24.2,"g":-28.5},{"s":"X-Pol (E)","k":3,"a":-23.4,"g":-24.5},{"s":"X-Pol (E)","k":3,"a":-22.5,"g":-20.9},{"s":"X-Pol (E)","k":3,"a":-21.4,"g":-18.4},{"s":"X-Pol (E)","k":3,"a":-20.3,"g":-17.7},{"s":"X-Pol (E)","k":3,"a":-19.3,"g":-17.9},{"s":"X-Pol (E)","k":3,"a":-18.3,"g":-18.7},{"s":"X-Pol (E)","k":3,"a":-17.7,"g":-20.3},{"s":"X-Pol (E)","k":3,"a":-17.2,"g":-23.1},{"s":"X-Pol (E)","k":3,"a":-17,"g":-25.8},{"s":"X-Pol (E)","k":3,"a":-16.6,"g":-28.7},
      {"s":"X-Pol (E)","k":5,"a":4.5,"g":-29.5},{"s":"X-Pol (E)","k":5,"a":5.5,"g":-24},{"s":"X-Pol (E)","k":5,"a":6.5,"g":-19.5},{"s":"X-Pol (E)","k":5,"a":7.5,"g":-18.2},{"s":"X-Pol (E)","k":5,"a":8.5,"g":-16.8},{"s":"X-Pol (E)","k":5,"a":9.8,"g":-15.8},{"s":"X-Pol (E)","k":5,"a":10.8,"g":-16.2},{"s":"X-Pol (E)","k":5,"a":11.7,"g":-18.4},{"s":"X-Pol (E)","k":5,"a":12.4,"g":-22},{"s":"X-Pol (E)","k":5,"a":12.8,"g":-24.3},{"s":"X-Pol (E)","k":5,"a":13.2,"g":-29.5},{"s":"X-Pol (E)","k":5,"a":14,"g":-27},{"s":"X-Pol (E)","k":5,"a":14.8,"g":-24.3},{"s":"X-Pol (E)","k":5,"a":15.5,"g":-22.1},{"s":"X-Pol (E)","k":5,"a":16.6,"g":-20.1},{"s":"X-Pol (E)","k":5,"a":17.2,"g":-19},{"s":"X-Pol (E)","k":5,"a":18.3,"g":-18},{"s":"X-Pol (E)","k":5,"a":19.4,"g":-17.3},{"s":"X-Pol (E)","k":5,"a":20.3,"g":-17.2},{"s":"X-Pol (E)","k":5,"a":21,"g":-17.9},{"s":"X-Pol (E)","k":5,"a":21.4,"g":-19.2},{"s":"X-Pol (E)","k":5,"a":22,"g":-21},{"s":"X-Pol (E)","k":5,"a":22.5,"g":-22.7},{"s":"X-Pol (E)","k":5,"a":23,"g":-25.5},{"s":"X-Pol (E)","k":5,"a":23.6,"g":-28},{"s":"X-Pol (E)","k":5,"a":24.3,"g":-28.8},{"s":"X-Pol (E)","k":5,"a":24.9,"g":-28},{"s":"X-Pol (E)","k":5,"a":25.8,"g":-25.8},{"s":"X-Pol (E)","k":5,"a":26.5,"g":-22.8},{"s":"X-Pol (E)","k":5,"a":27.6,"g":-22},{"s":"X-Pol (E)","k":5,"a":28.7,"g":-21.9},{"s":"X-Pol (E)","k":5,"a":29.4,"g":-22.5},{"s":"X-Pol (E)","k":5,"a":30.5,"g":-23.9},{"s":"X-Pol (E)","k":5,"a":31.3,"g":-25.8},{"s":"X-Pol (E)","k":5,"a":32,"g":-27.2},{"s":"X-Pol (E)","k":5,"a":33.1,"g":-27.5},{"s":"X-Pol (E)","k":5,"a":35.3,"g":-27.7},{"s":"X-Pol (E)","k":5,"a":38.2,"g":-27.7},{"s":"X-Pol (E)","k":5,"a":40.2,"g":-27.4},{"s":"X-Pol (E)","k":5,"a":43.7,"g":-27.5},{"s":"X-Pol (E)","k":5,"a":44.2,"g":-28.3},{"s":"X-Pol (E)","k":5,"a":44.8,"g":-29.5},
      {"s":"X-Pol (H)","k":1,"a":-20.5,"g":-28.6},{"s":"X-Pol (H)","k":1,"a":-19.9,"g":-27.8},{"s":"X-Pol (H)","k":1,"a":-18.5,"g":-26.5},{"s":"X-Pol (H)","k":1,"a":-17.2,"g":-25.4},{"s":"X-Pol (H)","k":1,"a":-16.1,"g":-23.9},{"s":"X-Pol (H)","k":1,"a":-14.8,"g":-22.1},{"s":"X-Pol (H)","k":1,"a":-13.7,"g":-20.5},{"s":"X-Pol (H)","k":1,"a":-12.5,"g":-19},{"s":"X-Pol (H)","k":1,"a":-11.5,"g":-17.7},{"s":"X-Pol (H)","k":1,"a":-10.6,"g":-17.2},{"s":"X-Pol (H)","k":1,"a":-9.7,"g":-17},{"s":"X-Pol (H)","k":1,"a":-9,"g":-17.7},{"s":"X-Pol (H)","k":1,"a":-8.8,"g":-19.4},{"s":"X-Pol (H)","k":1,"a":-8.4,"g":-22.1},{"s":"X-Pol (H)","k":1,"a":-7.9,"g":-23},{"s":"X-Pol (H)","k":1,"a":-7.4,"g":-21},{"s":"X-Pol (H)","k":1,"a":-6.8,"g":-18.5},{"s":"X-Pol (H)","k":1,"a":-6.2,"g":-16.8},{"s":"X-Pol (H)","k":1,"a":-5.5,"g":-15.7},{"s":"X-Pol (H)","k":1,"a":-5.1,"g":-14.6},{"s":"X-Pol (H)","k":1,"a":-4.6,"g":-12.9},{"s":"X-Pol (H)","k":1,"a":-4,"g":-11.5},{"s":"X-Pol (H)","k":1,"a":-3.3,"g":-9.9},{"s":"X-Pol (H)","k":1,"a":-2.2,"g":-8.2},{"s":"X-Pol (H)","k":1,"a":-0.7,"g":-6.7},{"s":"X-Pol (H)","k":1,"a":0.7,"g":-6},{"s":"X-Pol (H)","k":1,"a":1.8,"g":-5.8},{"s":"X-Pol (H)","k":1,"a":2.9,"g":-6.5},{"s":"X-Pol (H)","k":1,"a":4,"g":-8.4},{"s":"X-Pol (H)","k":1,"a":4.9,"g":-10.6},{"s":"X-Pol (H)","k":1,"a":5.3,"g":-13.2},{"s":"X-Pol (H)","k":1,"a":5.7,"g":-15.4},{"s":"X-Pol (H)","k":1,"a":6.2,"g":-16.6},{"s":"X-Pol (H)","k":1,"a":6.8,"g":-19},{"s":"X-Pol (H)","k":1,"a":7.1,"g":-22.7},{"s":"X-Pol (H)","k":1,"a":7.3,"g":-24.6},{"s":"X-Pol (H)","k":1,"a":8,"g":-24},{"s":"X-Pol (H)","k":1,"a":9,"g":-23.3},{"s":"X-Pol (H)","k":1,"a":10.4,"g":-23},{"s":"X-Pol (H)","k":1,"a":11.5,"g":-23},{"s":"X-Pol (H)","k":1,"a":12.2,"g":-23.5},{"s":"X-Pol (H)","k":1,"a":12.6,"g":-24.3},{"s":"X-Pol (H)","k":1,"a":13,"g":-27},{"s":"X-Pol (H)","k":1,"a":13.2,"g":-29.8},
      {"s":"X-Pol (H)","k":2,"a":16.3,"g":-30},{"s":"X-Pol (H)","k":2,"a":17,"g":-27.8},{"s":"X-Pol (H)","k":2,"a":17.7,"g":-27},{"s":"X-Pol (H)","k":2,"a":18.3,"g":-27.8},{"s":"X-Pol (H)","k":2,"a":18.8,"g":-30},
      {"s":"X-Pol (H)","k":3,"a":22.8,"g":-30},{"s":"X-Pol (H)","k":3,"a":23.8,"g":-27.5},{"s":"X-Pol (H)","k":3,"a":24.9,"g":-26.5},{"s":"X-Pol (H)","k":3,"a":25.8,"g":-27.2},{"s":"X-Pol (H)","k":3,"a":26.3,"g":-30},
      {"s":"X-Pol (H)","k":4,"a":46.5,"g":-27.8},{"s":"X-Pol (H)","k":4,"a":47.9,"g":-26.4},{"s":"X-Pol (H)","k":4,"a":48.5,"g":-26.2},
      {"s":"X-Pol (H)","k":5,"a":53,"g":-29.4},{"s":"X-Pol (H)","k":5,"a":55,"g":-29.8}
    ]
  },
  "hconcat": [
    {
      "width": 538,
      "height": 543,
      "title": {"text": "90GHz Patterns - Log Periodic with Lens", "dx": 0},
      "data": {"name": "left"},
      "layer": [
        {
          "mark": {"type": "line", "color": "black", "clip": true},
          "encoding": {
            "x": {"field": "a", "type": "quantitative", "scale": {"domain": [-80, 80], "nice": false, "zero": false},
                  "axis": {"orient": "bottom", "values": [-80,-78,-76,-74,-72,-70,-68,-66,-64,-62,-60,-58,-56,-54,-52,-50,-48,-46,-44,-42,-40,-38,-36,-34,-32,-30,-28,-26,-24,-22,-20,-18,-16,-14,-12,-10,-8,-6,-4,-2,0,2,4,6,8,10,12,14,16,18,20,22,24,26,28,30,32,34,36,38,40,42,44,46,48,50,52,54,56,58,60,62,64,66,68,70,72,74,76,78,80],
                           "labelExpr": "datum.value % 20 === 0 ? datum.label : ''", "tickSize": -7, "labelPadding": 13,
                           "title": "Angle (degrees)", "titleX": 288, "titleY": 49, "titleBaseline": "alphabetic", "titleAnchor": "middle"}},
            "y": {"field": "g", "type": "quantitative", "scale": {"domain": [-30, 0], "nice": false, "zero": false},
                  "axis": {"orient": "left", "values": [-30,-29,-28,-27,-26,-25,-24,-23,-22,-21,-20,-19,-18,-17,-16,-15,-14,-13,-12,-11,-10,-9,-8,-7,-6,-5,-4,-3,-2,-1,0],
                           "labelExpr": "datum.value % 5 === 0 ? datum.label : ''", "tickSize": -8, "labelPadding": 17,
                           "title": "Relative Gain (dB)", "titleFontSize": 30, "titleX": -79, "titleY": 261, "titleAngle": -90, "titleBaseline": "middle", "titleAnchor": "middle", "titleAlign": "center"}},
            "detail": {"field": "k", "type": "nominal"},
            "strokeDash": {"field": "s", "type": "nominal", "scale": {"domain": ["Co-Pol (E)", "Co-pol (H)", "X-Pol (E)", "X-Pol (H)"], "range": [[1, 0], [1, 0], [5, 4], [13, 8]]},
                           "legend": {"orient": "none", "legendX": 330, "legendY": 22.5}},
            "strokeWidth": {"field": "s", "type": "nominal", "scale": {"domain": ["Co-Pol (E)", "Co-pol (H)", "X-Pol (E)", "X-Pol (H)"], "range": [1.3, 2.2, 1.3, 1.3]},
                            "legend": {"orient": "none", "legendX": 330, "legendY": 22.5}}
          }
        },
        {
          "transform": [{"filter": "datum.s === 'Co-pol (H)'"}],
          "mark": {"type": "point", "filled": true, "color": "black", "size": 20, "opacity": 1, "clip": true},
          "encoding": {
            "x": {"field": "a", "type": "quantitative", "scale": {"domain": [-80, 80], "nice": false, "zero": false},
                  "axis": {"orient": "top", "values": [-80,-78,-76,-74,-72,-70,-68,-66,-64,-62,-60,-58,-56,-54,-52,-50,-48,-46,-44,-42,-40,-38,-36,-34,-32,-30,-28,-26,-24,-22,-20,-18,-16,-14,-12,-10,-8,-6,-4,-2,0,2,4,6,8,10,12,14,16,18,20,22,24,26,28,30,32,34,36,38,40,42,44,46,48,50,52,54,56,58,60,62,64,66,68,70,72,74,76,78,80], "labels": false, "tickSize": -6, "title": null}},
            "y": {"field": "g", "type": "quantitative", "scale": {"domain": [-30, 0], "nice": false, "zero": false},
                  "axis": {"orient": "right", "values": [-30,-29,-28,-27,-26,-25,-24,-23,-22,-21,-20,-19,-18,-17,-16,-15,-14,-13,-12,-11,-10,-9,-8,-7,-6,-5,-4,-3,-2,-1,0], "labels": false, "tickSize": -6, "title": null}}
          }
        },
        {
          "transform": [{"filter": "false"}],
          "mark": {"type": "point", "filled": false, "color": "black"},
          "encoding": {
            "x": {"field": "a", "type": "quantitative", "scale": {"domain": [-80, 80], "nice": false, "zero": false}, "axis": null},
            "y": {"field": "g", "type": "quantitative", "scale": {"domain": [-30, 0], "nice": false, "zero": false}, "axis": null},
            "shape": {"field": "s", "type": "nominal", "scale": {"domain": ["Co-Pol (E)", "Co-pol (H)", "X-Pol (E)", "X-Pol (H)"], "range": ["M-6,0H6", "M-6,0H6M-5.3,0a0.5,0.5 0 1,0 1,0a0.5,0.5 0 1,0 -1,0M-2.9,0a0.5,0.5 0 1,0 1,0a0.5,0.5 0 1,0 -1,0M-0.5,0a0.5,0.5 0 1,0 1,0a0.5,0.5 0 1,0 -1,0M1.9,0a0.5,0.5 0 1,0 1,0a0.5,0.5 0 1,0 -1,0M4.3,0a0.5,0.5 0 1,0 1,0a0.5,0.5 0 1,0 -1,0", "M-6,0H6", "M-6,0H6"]},
                      "legend": {"orient": "none", "legendX": 330, "legendY": 22.5}}
          }
        }
      ],
      "resolve": {"axis": {"x": "independent", "y": "independent"}}
    },
    {
      "width": 544,
      "height": 543,
      "title": {"text": "180GHz Patterns - Log Periodic with Lens", "dx": 13},
      "data": {"name": "right"},
      "layer": [
        {
          "mark": {"type": "line", "color": "black", "clip": true},
          "encoding": {
            "x": {"field": "a", "type": "quantitative", "scale": {"domain": [-60, 60], "nice": false, "zero": false},
                  "axis": {"orient": "bottom", "values": [-60,-58,-56,-54,-52,-50,-48,-46,-44,-42,-40,-38,-36,-34,-32,-30,-28,-26,-24,-22,-20,-18,-16,-14,-12,-10,-8,-6,-4,-2,0,2,4,6,8,10,12,14,16,18,20,22,24,26,28,30,32,34,36,38,40,42,44,46,48,50,52,54,56,58,60],
                           "labelExpr": "datum.value % 20 === 0 ? datum.label : ''", "tickSize": -7, "labelPadding": 13,
                           "title": "Angle (degrees)", "titleX": 284, "titleY": 49, "titleBaseline": "alphabetic", "titleAnchor": "middle"}},
            "y": {"field": "g", "type": "quantitative", "scale": {"domain": [-30, 0], "nice": false, "zero": false},
                  "axis": {"orient": "left", "values": [-30,-29,-28,-27,-26,-25,-24,-23,-22,-21,-20,-19,-18,-17,-16,-15,-14,-13,-12,-11,-10,-9,-8,-7,-6,-5,-4,-3,-2,-1,0],
                           "labelExpr": "datum.value % 5 === 0 ? datum.label : ''", "tickSize": -8, "labelPadding": 17,
                           "title": "Relative Gain (dB)", "titleFontSize": 30, "titleX": -66, "titleY": 261, "titleAngle": -90, "titleBaseline": "middle", "titleAnchor": "middle", "titleAlign": "center"}},
            "detail": {"field": "k", "type": "nominal"},
            "strokeDash": {"field": "s", "type": "nominal", "scale": {"domain": ["Co-Pol (E)", "Co-pol (H)", "X-Pol (E)", "X-Pol (H)"], "range": [[1, 0], [1, 0], [5, 4], [13, 8]]},
                           "legend": {"orient": "none", "legendX": 337, "legendY": 26.5}},
            "strokeWidth": {"field": "s", "type": "nominal", "scale": {"domain": ["Co-Pol (E)", "Co-pol (H)", "X-Pol (E)", "X-Pol (H)"], "range": [1.3, 2.2, 1.3, 1.3]},
                            "legend": {"orient": "none", "legendX": 337, "legendY": 26.5}}
          }
        },
        {
          "transform": [{"filter": "datum.s === 'Co-pol (H)'"}],
          "mark": {"type": "point", "filled": true, "color": "black", "size": 20, "opacity": 1, "clip": true},
          "encoding": {
            "x": {"field": "a", "type": "quantitative", "scale": {"domain": [-60, 60], "nice": false, "zero": false},
                  "axis": {"orient": "top", "values": [-60,-58,-56,-54,-52,-50,-48,-46,-44,-42,-40,-38,-36,-34,-32,-30,-28,-26,-24,-22,-20,-18,-16,-14,-12,-10,-8,-6,-4,-2,0,2,4,6,8,10,12,14,16,18,20,22,24,26,28,30,32,34,36,38,40,42,44,46,48,50,52,54,56,58,60], "labels": false, "tickSize": -6, "title": null}},
            "y": {"field": "g", "type": "quantitative", "scale": {"domain": [-30, 0], "nice": false, "zero": false},
                  "axis": {"orient": "right", "values": [-30,-29,-28,-27,-26,-25,-24,-23,-22,-21,-20,-19,-18,-17,-16,-15,-14,-13,-12,-11,-10,-9,-8,-7,-6,-5,-4,-3,-2,-1,0], "labels": false, "tickSize": -6, "title": null}}
          }
        },
        {
          "transform": [{"filter": "false"}],
          "mark": {"type": "point", "filled": false, "color": "black"},
          "encoding": {
            "x": {"field": "a", "type": "quantitative", "scale": {"domain": [-60, 60], "nice": false, "zero": false}, "axis": null},
            "y": {"field": "g", "type": "quantitative", "scale": {"domain": [-30, 0], "nice": false, "zero": false}, "axis": null},
            "shape": {"field": "s", "type": "nominal", "scale": {"domain": ["Co-Pol (E)", "Co-pol (H)", "X-Pol (E)", "X-Pol (H)"], "range": ["M-6,0H6", "M-6,0H6M-5.3,0a0.5,0.5 0 1,0 1,0a0.5,0.5 0 1,0 -1,0M-2.9,0a0.5,0.5 0 1,0 1,0a0.5,0.5 0 1,0 -1,0M-0.5,0a0.5,0.5 0 1,0 1,0a0.5,0.5 0 1,0 -1,0M1.9,0a0.5,0.5 0 1,0 1,0a0.5,0.5 0 1,0 -1,0M4.3,0a0.5,0.5 0 1,0 1,0a0.5,0.5 0 1,0 -1,0", "M-6,0H6", "M-6,0H6"]},
                      "legend": {"orient": "none", "legendX": 337, "legendY": 26.5}}
          }
        }
      ],
      "resolve": {"axis": {"x": "independent", "y": "independent"}}
    }
  ],
  "resolve": {"scale": {"strokeDash": "independent", "strokeWidth": "independent", "shape": "independent"}, "legend": {"strokeDash": "independent", "strokeWidth": "independent", "shape": "independent"}}
}
